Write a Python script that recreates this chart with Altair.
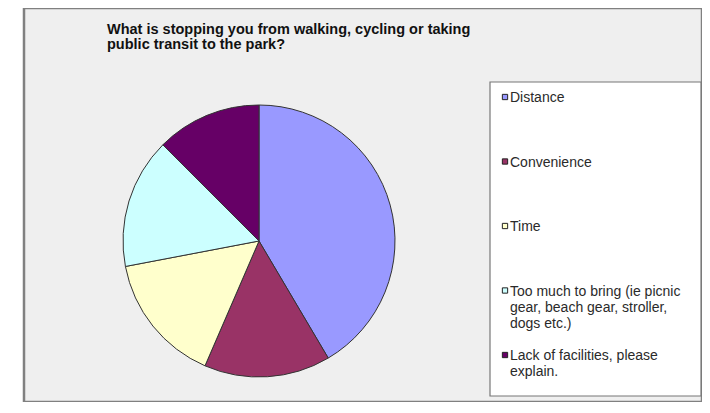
import altair as alt
import pandas as pd

# ---- data ----
categories = [
    "Distance",
    "Convenience",
    "Time",
    "Too much to bring (ie picnic gear, beach gear, stroller, dogs etc.)",
    "Lack of facilities, please explain.",
]
legend_labels = [
    "Distance",
    "Convenience",
    "Time",
    "Too much to bring (ie picnic\n\u00a0gear, beach gear, stroller,\n\u00a0dogs etc.)",
    "Lack of facilities, please\n\u00a0explain.",
]
values = [41.5, 15.0, 15.5, 15.5, 12.5]
colors = ["#9999FF", "#993366", "#FFFFCC", "#CCFFFF", "#660066"]
title_lines = [
    "What is stopping you from walking, cycling or taking\npublic transit to the park?"
]

df = pd.DataFrame({
    "category": categories,
    "label": legend_labels,
    "value": values,
    "order": list(range(len(categories))),
})
title_df = pd.DataFrame({"t": title_lines})

W, H = 678, 394

color_scale = alt.Scale(domain=categories, range=colors)
y_legend = alt.Y(
    "category:N",
    sort=categories,
    scale=alt.Scale(type="point", domain=categories, range=[89, 347], padding=0),
    axis=None,
)

base = alt.Chart(df)

pie = base.mark_arc(radius=136, stroke="#333333", strokeWidth=1).encode(
    theta=alt.Theta("value:Q", stack=True),
    color=alt.Color("category:N", scale=color_scale, legend=None),
    order=alt.Order("order:Q"),
    x=alt.value(235),
    y=alt.value(233),
)

legend_box = alt.Chart(title_df).mark_rect(
    fill="white", stroke="#777777", strokeWidth=1.2
).encode(
    x=alt.value(466), x2=alt.value(W - 1),
    y=alt.value(74), y2=alt.value(H - 6),
)

legend_sym = base.mark_square(size=28, stroke="#222222", strokeWidth=1, opacity=1).encode(
    x=alt.value(481),
    y=y_legend,
    color=alt.Color("category:N", scale=color_scale, legend=None),
)

legend_txt = base.mark_text(
    align="left", baseline="alphabetic", lineBreak="\n", lineHeight=16,
    fontSize=14, font="Liberation Sans", color="#2a2a2a", dy=5,
).encode(
    x=alt.value(486),
    y=y_legend,
    text="label:N",
)

title = alt.Chart(title_df).mark_text(
    align="left", baseline="alphabetic", lineBreak="\n", lineHeight=14.5,
    fontSize=14.5, font="Liberation Sans", fontWeight="bold", color="#111111",
).encode(
    x=alt.value(83),
    y=alt.value(26),
    text="t:N",
)

chart = alt.layer(legend_box, pie, legend_sym, legend_txt, title).properties(
    width=W,
    height=H,
    autosize=alt.AutoSizeParams(type="none"),
    padding={"left": 16, "top": 0, "right": 0, "bottom": 0},
    background="white",
).configure_view(
    fill="#EFEFEF", stroke="#808080", strokeWidth=2.5
).resolve_scale(y="shared")

chart.save("out.html", embed_options={"renderer": "svg", "actions": False})
